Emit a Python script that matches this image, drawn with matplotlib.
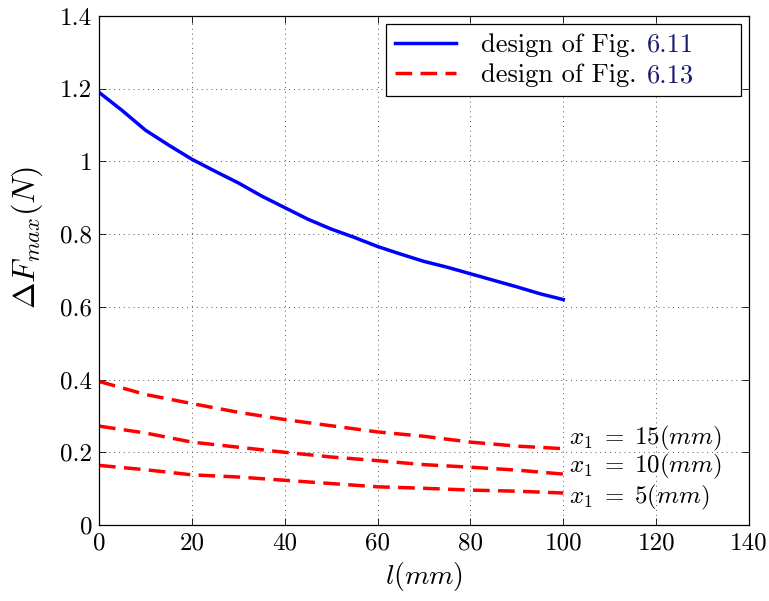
import matplotlib
matplotlib.use("Agg")
import matplotlib.pyplot as plt
from matplotlib.ticker import FixedLocator, FixedFormatter

plt.rcParams["font.family"] = "serif"
plt.rcParams["font.serif"] = ["cmr10"]
plt.rcParams["mathtext.fontset"] = "cm"
plt.rcParams["axes.formatter.use_mathtext"] = True

# Design of Fig. 6.11: sweep over the length l (mm)
l_611 = [0, 5, 10, 15, 20, 25, 30, 35, 40, 45, 50,
         55, 60, 65, 70, 75, 80, 85, 90, 95, 100]
dF_611 = [1.19, 1.14, 1.086, 1.045, 1.006, 0.973, 0.941, 0.905, 0.873, 0.841, 0.814,
          0.791, 0.766, 0.745, 0.725, 0.709, 0.691, 0.673, 0.655, 0.636, 0.62]

# Design of Fig. 6.13 for three offsets x1
l_613 = [0, 10, 20, 30, 40, 50, 60, 70, 80, 90, 100]
dF_613_x15 = [0.395, 0.359, 0.334, 0.31, 0.29, 0.273, 0.256, 0.244, 0.228, 0.217, 0.21]
dF_613_x10 = [0.272, 0.253, 0.228, 0.214, 0.2, 0.187, 0.177, 0.166, 0.159, 0.151, 0.14]
dF_613_x5 = [0.164, 0.152, 0.138, 0.132, 0.123, 0.114, 0.105, 0.101, 0.096, 0.093, 0.088]

curve_labels = [r"$x_1\;=\;15(mm)$", r"$x_1\;=\;10(mm)$", r"$x_1\;=\;5(mm)$"]
curve_label_y = [0.239, 0.16, 0.077]

legend_prefix = "design of Fig."
legend_refs = ["6.11", "6.13"]

x_ticks = [0, 20, 40, 60, 80, 100, 120, 140]
x_tick_labels = ["0", "20", "40", "60", "80", "100", "120", "140"]
y_ticks = [0, 0.2, 0.4, 0.6, 0.8, 1.0, 1.2, 1.4]
y_tick_labels = ["0", "0.2", "0.4", "0.6", "0.8", "1", "1.2", "1.4"]

W, H = 769, 601
fig = plt.figure(figsize=(W / 100, H / 100), dpi=100)
ax = fig.add_axes([99 / W, 76 / H, 650 / W, 509 / H])

dash = (0, (4.8, 2.4))
lw = 2.5
ax.plot(l_611, dF_611, color="#0000ff", lw=lw,
        label=f"{legend_prefix} {legend_refs[0]}")
ax.plot(l_613, dF_613_x15, color="#ff0000", lw=lw, ls=dash,
        label=f"{legend_prefix} {legend_refs[1]}")
ax.plot(l_613, dF_613_x10, color="#ff0000", lw=lw, ls=dash)
ax.plot(l_613, dF_613_x5, color="#ff0000", lw=lw, ls=dash)

for txt, yv in zip(curve_labels, curve_label_y):
    ax.text(101.3, yv, txt, fontsize=18, ha="left", va="center")

ax.set_xlim(0, 140)
ax.set_ylim(0, 1.4)
ax.xaxis.set_major_locator(FixedLocator(x_ticks))
ax.xaxis.set_major_formatter(FixedFormatter(x_tick_labels))
ax.yaxis.set_major_locator(FixedLocator(y_ticks))
ax.yaxis.set_major_formatter(FixedFormatter(y_tick_labels))
ax.tick_params(direction="in", top=True, right=True, labelsize=18,
               length=5, width=0.6, pad=5)
for s in ax.spines.values():
    s.set_linewidth(0.9)

ax.grid(True, color="#555555", ls=(0, (1, 4)), lw=0.7)

ax.set_xlabel(r"$l(mm)$", fontsize=20, labelpad=4)
ax.set_ylabel(r"$\Delta F_{max}(N)$", fontsize=23)
ax.yaxis.set_label_coords(-0.083, 0.564)

# Legend labels are laid out with room on the right; the visible text is
# drawn on top so the reference number can take the link colour.
leg_fs = 19
pad_labels = [f"{legend_prefix} {r}000" for r in legend_refs]
handles = ax.get_legend_handles_labels()[0]
leg = ax.legend(handles, pad_labels, loc="upper right", fontsize=leg_fs,
                frameon=True, fancybox=False, edgecolor="black", framealpha=1,
                handlelength=2.3, borderaxespad=0.3, labelspacing=0.25,
                borderpad=0.35, handletextpad=0.95)
leg.get_frame().set_linewidth(0.9)

fig.canvas.draw()
renderer = fig.canvas.get_renderer()
for t, ref in zip(leg.get_texts(), legend_refs):
    bb = t.get_window_extent(renderer)
    t.set_visible(False)
    pre = fig.text(bb.x0, bb.y0, legend_prefix, fontsize=leg_fs,
                   ha="left", va="bottom", transform=None, zorder=10)
    pbb = pre.get_window_extent(renderer)
    fig.text(pbb.x1 + 10, bb.y0, ref, fontsize=leg_fs, ha="left", va="bottom",
             color="#1a1a6e", transform=None, zorder=10)

fig.savefig("out.png", dpi=100)
